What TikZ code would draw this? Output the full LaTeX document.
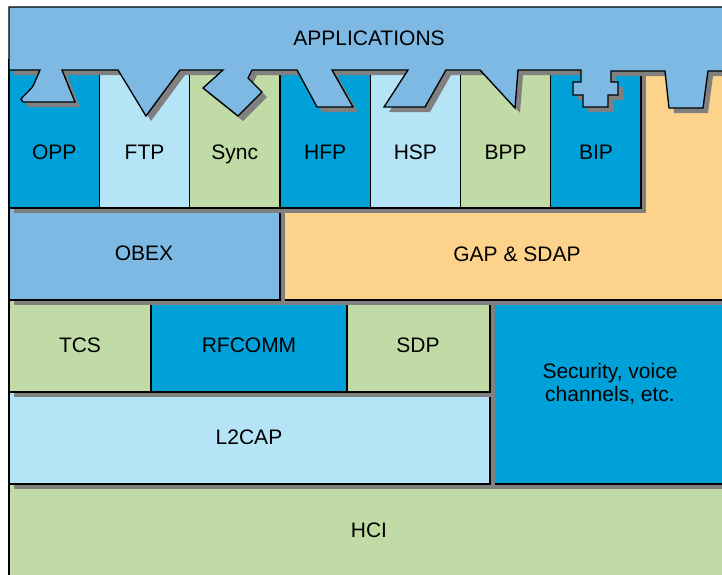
\documentclass[tikz,border=0pt]{standalone}
\usepackage{fontspec}
\setmainfont{Liberation Sans}
\usepackage{tikz}

\definecolor{appblue}{RGB}{126,185,227}
\definecolor{deepblue}{RGB}{0,161,216}
\definecolor{paleblue}{RGB}{181,228,247}
\definecolor{stackgreen}{RGB}{192,219,165}
\definecolor{gaporange}{RGB}{253,211,139}
\definecolor{shadowgray}{RGB}{128,128,128}

% outline of the applications band with its tabs
\newcommand{\appband}{(9,7) -- (740,7) -- (740,71) -- (708,71) -- (703,108) -- (669,108) -- (665,71)
	-- (611,71) -- (611,82) -- (618,82) -- (618,95) -- (608,95) -- (608,107) -- (583,107) -- (583,95)
	-- (573,95) -- (573,82) -- (581,82) -- (581,70) -- (518,70) -- (515,108) -- (480,70) -- (446,70)
	-- (425,107) -- (384,107) -- (408,70) -- (332,70) -- (353,107) -- (317,107) -- (297,70) -- (252,70)
	-- (248,78) -- (262,92) -- (238,116) -- (203,88) -- (223,70) -- (180,70) -- (146,116) -- (118,70)
	-- (62,70) -- (75,102) -- (23,102) -- (21,99) .. controls (26,93) and (32,89) .. (34,84) -- (40,70)
	-- (9,70) -- cycle}

\begin{document}
\begin{tikzpicture}[x=0.75pt,y=-0.75pt,line width=1pt,line join=miter]
	\tikzstyle{box}=[draw=black]
	\tikzstyle{dropshadow}=[fill=shadowgray]
	\tikzstyle{txt}=[font=\fontsize{15.75}{17.5}\selectfont,align=center,anchor=base]

	\useasboundingbox (0,0) rectangle (722,575);
	\clip (0,0) rectangle (722,575);

	% HCI at the bottom
	\filldraw[box,fill=stackgreen] (9,484) rectangle (740,600);
	\node[txt] (hci) at (369,537) {HCI};

	% security block
	\fill[dropshadow] (495,305) rectangle (745,489);
	\filldraw[box,fill=deepblue] (490,300) rectangle (740,484);
	\node[txt,anchor=center] (sec) at (610,384) {Security, voice\\channels, etc.};

	% L2CAP
	\fill[dropshadow] (14,397) rectangle (495,489);
	\filldraw[box,fill=paleblue] (9,392) rectangle (490,484);
	\node[txt] (l2cap) at (249,444) {L2CAP};

	% TCS, RFCOMM, SDP
	\fill[dropshadow] (14,305) rectangle (495,397);
	\filldraw[box,fill=stackgreen] (9,300) rectangle (151,392);
	\filldraw[box,fill=deepblue] (151,300) rectangle (347,392);
	\filldraw[box,fill=stackgreen] (347,300) rectangle (490,392);
	\node[txt] (tcs) at (80,352) {TCS};
	\node[txt] (rfcomm) at (249,352) {RFCOMM};
	\node[txt] (sdp) at (418,352) {SDP};

	% GAP & SDAP
	\fill[dropshadow] (285,60) rectangle (765,305);
	\filldraw[box,fill=gaporange] (280,55) rectangle (760,300);
	\node[txt] (gap) at (517,261) {GAP \& SDAP};

	% OBEX
	\fill[dropshadow] (14,213) rectangle (285,305);
	\filldraw[box,fill=appblue] (9,208) rectangle (280,300);
	\node[txt] (obex) at (144,260) {OBEX};

	% profiles
	\fill[dropshadow] (14,65) rectangle (646,213);
	\foreach \col [count=\i from 0] in {deepblue,paleblue,stackgreen,deepblue,paleblue,stackgreen,deepblue}
		\filldraw[box,fill=\col] (9+90.3*\i,60) rectangle (99.3+90.3*\i,208);
	\foreach \name/\lbl [count=\i from 0] in {opp/OPP,ftp/FTP,sync/Sync,hfp/HFP,hsp/HSP,bpp/BPP,bip/BIP}
		\node[txt] (\name) at (54.2+90.3*\i,159) {\lbl};

	% applications on top
	\begin{scope}[shift={(5,5)}]
		\fill[dropshadow] \appband;
	\end{scope}
	\filldraw[box,fill=appblue] \appband;
	\node[txt] (apps) at (369,45) {APPLICATIONS};
\end{tikzpicture}
\end{document}
